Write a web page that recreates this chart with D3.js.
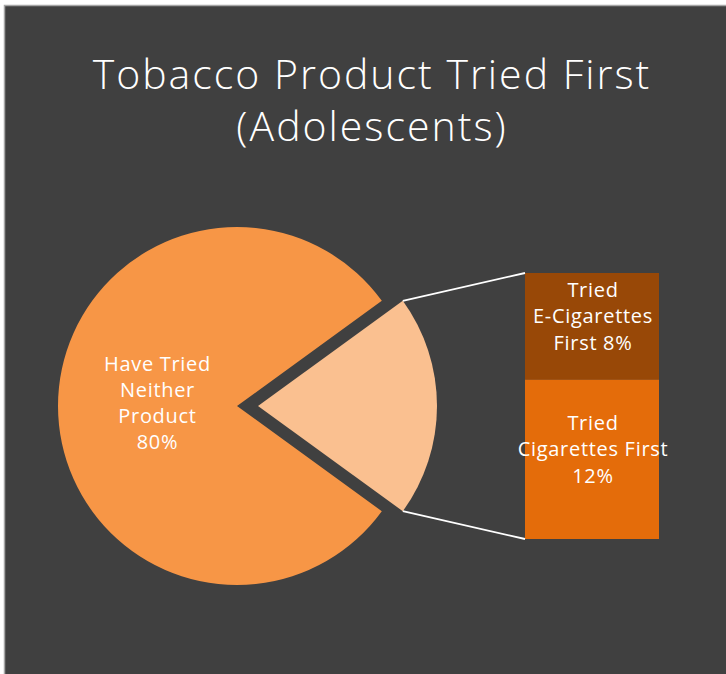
<!DOCTYPE html>
<html>
<head>
<meta charset="utf-8">
<script src="https://cdn.jsdelivr.net/npm/d3@7"></script>
<style>
  html, body { margin: 0; padding: 0; background: #ffffff; }
  svg { display: block; }
  text { font-family: "Open Sans", "Lato", "DejaVu Sans", sans-serif; fill: #ffffff; }
</style>
</head>
<body>
<svg id="chart" width="726" height="674"></svg>
<script>
// Chart data
const titleLines = ["Tobacco Product Tried First", "(Adolescents)"];
const pieCategories = ["Other", "Have Tried Neither Product"];
const barCategories = ["Tried Cigarettes First", "Tried E-Cigarettes First"];
const barValues = [12, 8];
const mainValue = 80;
const pieLabelLines = ["Have Tried", "Neither", "Product", "80%"];
const barLabelLines = [
  ["Tried", "Cigarettes First", "12%"],
  ["Tried", "E-Cigarettes", "First 8%"]
];

const colors = {
  background: "#404040",
  frame: "#a6a6a6",
  main: "#F79646",
  other: "#FAC090",
  barColors: ["#E46C0A", "#984807"],
  connector: "#ffffff"
};

const svg = d3.select("#chart");
const W = 726, H = 674;

// Panel background with thin frame on top/left
svg.append("rect")
  .attr("x", 4.5).attr("y", 5.5)
  .attr("width", W).attr("height", H)
  .attr("fill", colors.background)
  .attr("stroke", colors.frame)
  .attr("stroke-width", 1.5);

// Title
const title = svg.append("text")
  .attr("text-anchor", "middle")
  .attr("font-size", 41)
  .attr("font-weight", 300)
  .attr("letter-spacing", 2);
titleLines.forEach((t, i) => {
  title.append("tspan").attr("x", 372).attr("y", 89 + i * 52).text(t);
});

// Pie
const cx = 237, cy = 406, r = 179, explode = 21;
const otherTotal = d3.sum(barValues);
const pieData = [otherTotal, mainValue];
const start = Math.PI / 2 - Math.PI * otherTotal / (otherTotal + mainValue);
const pie = d3.pie().sort(null)
  .startAngle(start)
  .endAngle(start + 2 * Math.PI);
const arcs = pie(pieData);
const arc = d3.arc().innerRadius(0).outerRadius(r);

const g = svg.append("g").attr("transform", `translate(${cx},${cy})`);

// Main slice
g.append("path")
  .attr("d", arc(arcs[1]))
  .attr("fill", colors.main);

// Exploded "other" slice
const oa = arcs[0];
const mid = (oa.startAngle + oa.endAngle) / 2;
const dx = Math.sin(mid) * explode, dy = -Math.cos(mid) * explode;
g.append("path")
  .attr("d", arc(oa))
  .attr("transform", `translate(${dx},${dy})`)
  .attr("fill", colors.other);

// Main slice label
const labelArc = d3.arc().innerRadius(0).outerRadius(r * 0.9);
const [lx, ly] = labelArc.centroid(arcs[1]);
const mainLabel = g.append("text")
  .attr("text-anchor", "middle")
  .attr("font-size", 20)
  .attr("letter-spacing", 0.7);
pieLabelLines.forEach((t, i) => {
  mainLabel.append("tspan")
    .attr("x", lx + 1)
    .attr("y", ly - 1.5 * 26 + i * 26 + 4)
    .text(t);
});

// Stacked bar
const barX = 525, barW = 134, barTop = 273, barBottom = 539;
const y = d3.scaleLinear().domain([0, otherTotal]).range([barBottom, barTop]);
let cum = 0;
const segs = barValues.map((v, i) => {
  const s = { value: v, y0: cum, y1: cum + v, i };
  cum += v;
  return s;
});
svg.selectAll("rect.seg").data(segs).enter().append("rect")
  .attr("class", "seg")
  .attr("x", barX).attr("width", barW)
  .attr("y", d => y(d.y1))
  .attr("height", d => y(d.y0) - y(d.y1))
  .attr("fill", d => colors.barColors[d.i]);

segs.forEach(s => {
  const cyS = (y(s.y0) + y(s.y1)) / 2;
  const t = svg.append("text")
    .attr("text-anchor", "middle")
    .attr("font-size", 20)
    .attr("letter-spacing", 0.7);
  const lines = barLabelLines[s.i];
  lines.forEach((line, k) => {
    t.append("tspan")
      .attr("x", barX + barW / 2 + 1)
      .attr("y", cyS - (lines.length - 1) / 2 * 26.5 + k * 26.5 - 3)
      .text(line);
  });
});

// Connector lines from exploded slice edges to bar corners
const pt = a => [cx + dx + Math.sin(a) * r, cy + dy - Math.cos(a) * r];
const [tx, ty] = pt(oa.startAngle);
const [bx, by] = pt(oa.endAngle);
svg.append("line")
  .attr("x1", tx).attr("y1", ty).attr("x2", barX).attr("y2", barTop)
  .attr("stroke", colors.connector).attr("stroke-width", 1.8);
svg.append("line")
  .attr("x1", bx).attr("y1", by).attr("x2", barX).attr("y2", barBottom)
  .attr("stroke", colors.connector).attr("stroke-width", 1.8);
</script>
</body>
</html>
